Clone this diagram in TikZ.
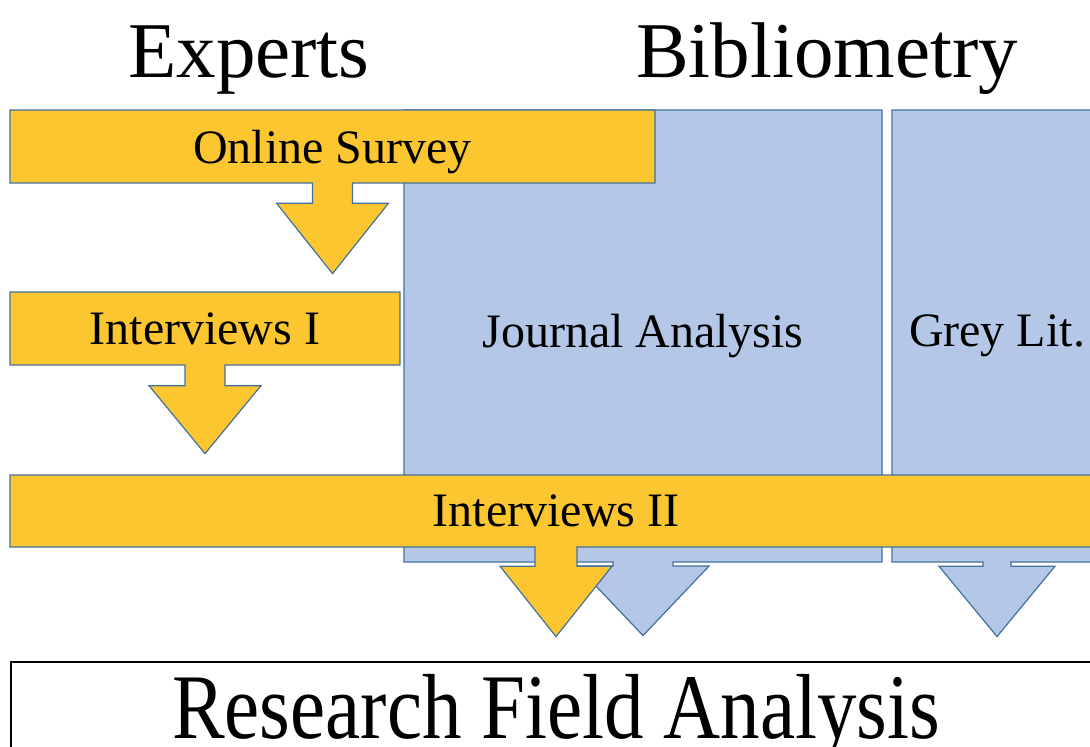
\documentclass[tikz,border=0pt]{standalone}
\usepackage{fontspec}
\setmainfont{Liberation Serif}
\usetikzlibrary{shapes.arrows}

\definecolor{gold}{HTML}{FCC630}
\definecolor{paleblue}{HTML}{B4C7E7}
\definecolor{edge}{HTML}{41719C}

\begin{document}
\begin{tikzpicture}[
  x=1pt, y=-1pt,
  heading/.style={font=\fontsize{79}{80}\selectfont, inner sep=0pt, anchor=base},
  callout/.style={arrow box, draw=edge, line width=1.2pt, inner sep=0pt, font=\fontsize{48}{50}\selectfont},
  expert/.style={callout, fill=gold, minimum height=73pt, arrow box shaft width=40pt, arrow box head extend=36pt, arrow box tip angle=77},
  source/.style={callout, fill=paleblue, minimum height=452pt},
  result/.style={draw=black, line width=1.5pt, fill=white, inner sep=0pt, anchor=north west}
]

\useasboundingbox (0,0) rectangle (1090,747);
\clip (0,0) rectangle (1090,747);

% Headings
\node[heading] (experts) at (249,77) {Experts};
\node[heading] (biblio) at (827,77) {Bibliometry};

% Bibliometry (behind)
\node[source, minimum width=478pt, arrow box shaft width=60pt, arrow box head extend=36pt, arrow box tip angle=87,
      arrow box arrows={south:73pt from border}] (journal) at (643,336) {Journal Analysis};
\node[source, minimum width=210pt, arrow box shaft width=28pt, arrow box head extend=44pt, arrow box tip angle=79,
      arrow box arrows={south:74pt from border}] (grey) at (997,336) {Grey Lit.};

% Experts (in front)
\node[expert, minimum width=645pt, text depth=0pt, arrow box arrows={south:90pt from border}] (survey) at (332.5,146.5) {Online Survey};
\node[expert, minimum width=390pt, arrow box tip angle=79, arrow box arrows={south:88pt from border}] (intI) at (205,328.5) {Interviews I};
\node[expert, minimum width=1092pt, minimum height=72pt, arrow box shaft width=42pt, arrow box head extend=35pt,
      arrow box arrows={south:89pt from border}] (intII) at (556,511) {Interviews II};

% Result
\node[result, minimum width=1092pt, minimum height=140pt] (rfa) at (10,661) {};
\node[heading] (rfatext) at (556,738) {\scalebox{1}[1.17]{Research Field Analysis}};

\end{tikzpicture}
\end{document}
